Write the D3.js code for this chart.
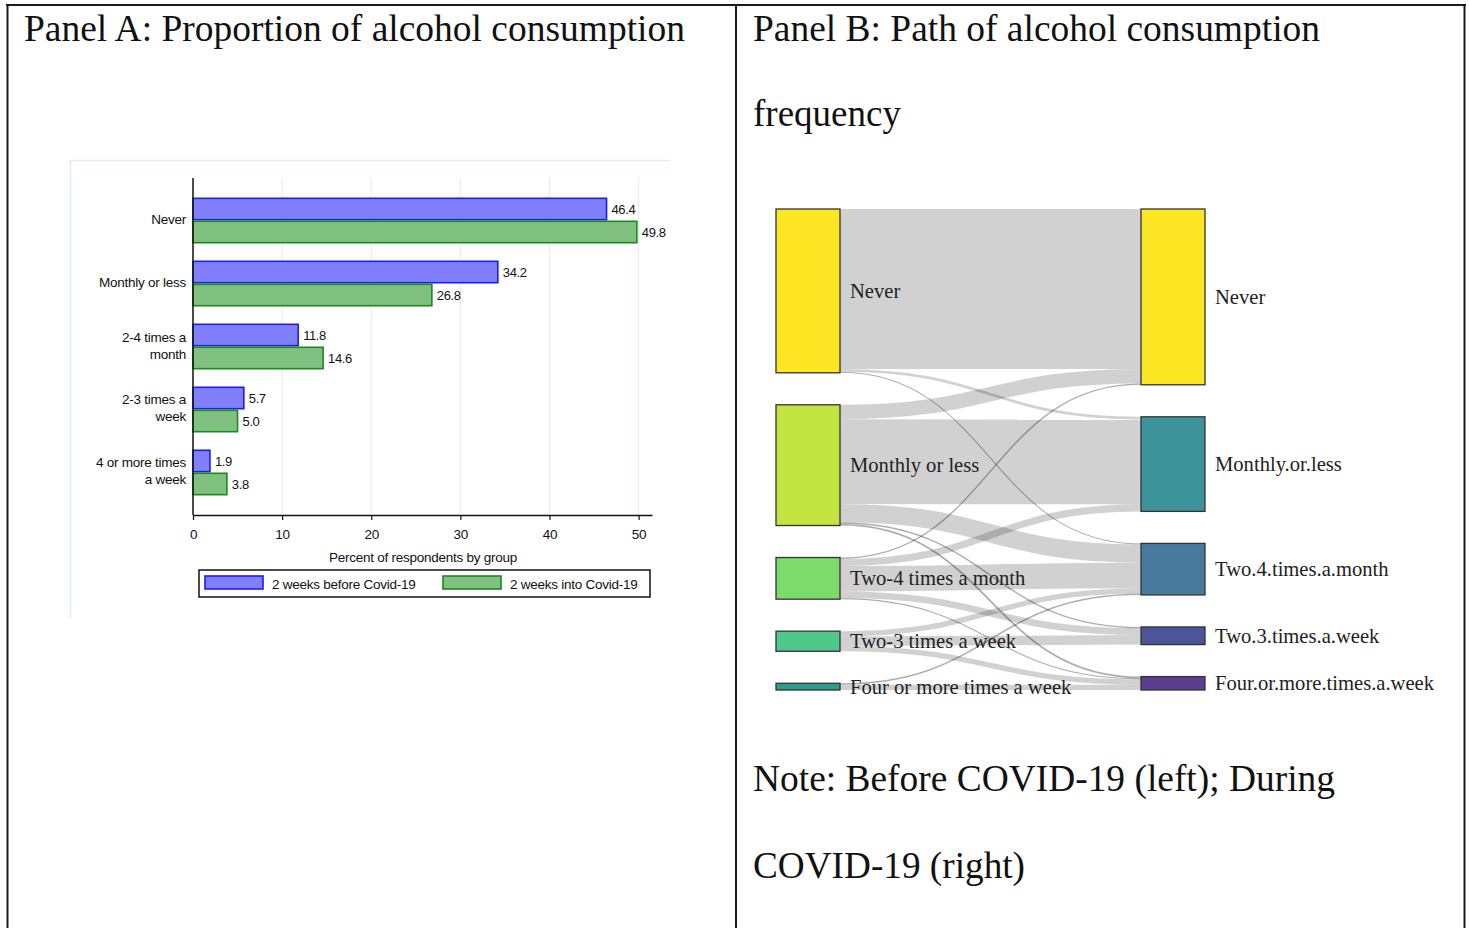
<!DOCTYPE html>
<html><head><meta charset="utf-8">
<script src="https://cdn.jsdelivr.net/npm/d3@7"></script>
<style>body{margin:0;background:#fff;overflow:hidden}</style>
</head><body>
<svg id="c" width="1469" height="928"></svg>
<script>
// ---------- Panel A data ----------
const categories = ["Never", "Monthly or less", "2-4 times a month", "2-3 times a week", "4 or more times a week"];
const categoryLines = [["Never"], ["Monthly or less"], ["2-4 times a", "month"], ["2-3 times a", "week"], ["4 or more times", "a week"]];
const seriesNames = ["2 weeks before Covid-19", "2 weeks into Covid-19"];
const beforeValues = [46.4, 34.2, 11.8, 5.7, 1.9];
const intoValues = [49.8, 26.8, 14.6, 5.0, 3.8];
const xTicks = [0, 10, 20, 30, 40, 50];
const xAxisTitle = "Percent of respondents by group";

// ---------- Panel B data ----------
const leftNodes = ["Never", "Monthly or less", "Two-4 times a month", "Two-3 times a week", "Four or more times a week"];
const rightNodes = ["Never", "Monthly.or.less", "Two.4.times.a.month", "Two.3.times.a.week", "Four.or.more.times.a.week"];
const leftColors = ["#fde725", "#c2e541", "#7ddb6c", "#4fc88b", "#2a9d8f"];
const rightColors = ["#fde725", "#3c939a", "#477a9c", "#4b5597", "#5c3d8f"];
const flowFrom  = [0, 0, 0,   1, 1, 1, 1, 1,   2, 2, 2, 2, 2,   3, 3, 3,   4, 4];
const flowTo    = [0, 1, 2,   0, 1, 2, 3, 4,   0, 1, 2, 3, 4,   2, 3, 4,   2, 4];
const flowValue = [45.3, 0.8, 0.3,   4.1, 24.0, 5.2, 0.4, 0.5,   0.4, 2.0, 7.2, 1.9, 0.3,   1.5, 2.7, 1.5,   0.4, 1.5];

const titleA = "Panel A: Proportion of alcohol consumption";
const titleB = ["Panel B: Path of alcohol consumption", "frequency"];
const noteB = ["Note: Before COVID-19 (left); During", "COVID-19 (right)"];

const svg = d3.select("#c");
svg.append("rect").attr("width", 1469).attr("height", 928).attr("fill", "#fff");

// ---------- frame ----------
const frame = svg.append("g").attr("stroke", "#1a1a1a").attr("stroke-width", 2).attr("fill", "none");
frame.append("line").attr("x1", 6).attr("x2", 1466).attr("y1", 5).attr("y2", 5);
frame.append("line").attr("x1", 7.5).attr("x2", 7.5).attr("y1", 4).attr("y2", 928);
frame.append("line").attr("x1", 736).attr("x2", 736).attr("y1", 4).attr("y2", 928);
frame.append("line").attr("x1", 1464.5).attr("x2", 1464.5).attr("y1", 4).attr("y2", 928);

const serif = "'Liberation Serif', 'Times New Roman', serif";
const sans = "'Liberation Sans', Arial, sans-serif";
const smallSize = 13.5, smallSpacing = -0.25;

function bigText(txt, x, y, len) {
  svg.append("text").attr("x", x).attr("y", y)
    .attr("font-family", serif).attr("font-size", 38).attr("fill", "#111")
    .attr("textLength", len).attr("lengthAdjust", "spacingAndGlyphs").text(txt);
}
bigText(titleA, 24, 41, 661);
bigText(titleB[0], 753, 41, 567);
bigText(titleB[1], 753, 126, 148);
bigText(noteB[0], 753, 791, 582);
bigText(noteB[1], 753, 878, 272);

// ---------- Panel A: bar chart ----------
const gA = svg.append("g");
gA.append("line").attr("x1", 70).attr("x2", 670).attr("y1", 160.5).attr("y2", 160.5).attr("stroke", "#e4eeef").attr("stroke-width", 1.5);
gA.append("line").attr("x1", 70.5).attr("x2", 70.5).attr("y1", 160).attr("y2", 618).attr("stroke", "#e4eeef").attr("stroke-width", 1.5);

const plotTop = 178, plotBottom = 515;
const x = d3.scaleLinear().domain([0, 51.5]).range([193, 652]);
const y = d3.scaleBand().domain(categories).range([plotTop, plotBottom]).paddingInner(0.27).paddingOuter(0.31);
const ySub = d3.scaleBand().domain([0, 1]).range([0, y.bandwidth()]);

// gridlines
gA.append("g").selectAll("line").data(xTicks.filter(t => t > 0)).join("line")
  .attr("x1", d => x(d)).attr("x2", d => x(d)).attr("y1", plotTop).attr("y2", plotBottom)
  .attr("stroke", "#e2eced").attr("stroke-width", 1);

const series = [
  {name: seriesNames[0], values: beforeValues, fill: "#8080ff", stroke: "#1c1cf0"},
  {name: seriesNames[1], values: intoValues, fill: "#80c080", stroke: "#1a8a1a"}
];

series.forEach((s, si) => {
  const g = gA.append("g");
  g.selectAll("rect").data(categories).join("rect")
    .attr("x", x(0)).attr("y", (c) => y(c) + ySub(si) + 0.8)
    .attr("width", (c, i) => x(s.values[i]) - x(0))
    .attr("height", ySub.bandwidth() - 1.6)
    .attr("fill", s.fill).attr("stroke", s.stroke).attr("stroke-width", 1.6);
  g.selectAll("text").data(categories).join("text")
    .attr("x", (c, i) => x(s.values[i]) + 5)
    .attr("y", (c) => y(c) + ySub(si) + ySub.bandwidth() / 2 + 5)
    .attr("font-family", sans).attr("font-size", 13).attr("letter-spacing", -0.4).attr("fill", "#111")
    .text((c, i) => s.values[i].toFixed(1));
});

// y axis line
gA.append("line").attr("x1", x(0)).attr("x2", x(0)).attr("y1", plotTop).attr("y2", plotBottom)
  .attr("stroke", "#111").attr("stroke-width", 1.5);

// category labels
categories.forEach((c, i) => {
  const lines = categoryLines[i];
  const cy = y(c) + y.bandwidth() / 2;
  const offs = lines.length === 1 ? [-2] : [-10, 7];
  lines.forEach((ln, k) => {
    gA.append("text").attr("x", 186).attr("y", cy + offs[k] + 5)
      .attr("text-anchor", "end").attr("font-family", sans).attr("font-size", smallSize)
      .attr("letter-spacing", smallSpacing).attr("fill", "#111").text(ln);
  });
});

// x axis
const xAxis = gA.append("g").attr("transform", `translate(0,${plotBottom})`)
  .call(d3.axisBottom(x).tickValues(xTicks).tickSize(5).tickSizeOuter(0).tickPadding(9).tickFormat(d3.format("d")));
xAxis.select(".domain").attr("stroke", "#111").attr("stroke-width", 1.5);
xAxis.selectAll(".tick line").attr("stroke", "#111").attr("stroke-width", 1.2);
xAxis.selectAll(".tick text").attr("font-family", sans).attr("font-size", smallSize).attr("letter-spacing", smallSpacing).attr("fill", "#111");

gA.append("text").attr("x", 423).attr("y", 562).attr("text-anchor", "middle")
  .attr("font-family", sans).attr("font-size", smallSize).attr("letter-spacing", smallSpacing).attr("fill", "#111").text(xAxisTitle);

// legend
const leg = gA.append("g");
leg.append("rect").attr("x", 199).attr("y", 570).attr("width", 451).attr("height", 27)
  .attr("fill", "#fff").attr("stroke", "#111").attr("stroke-width", 1.5);
const legX = [205, 443];
series.forEach((s, si) => {
  leg.append("rect").attr("x", legX[si]).attr("y", 576).attr("width", 58).attr("height", 13)
    .attr("fill", s.fill).attr("stroke", s.stroke).attr("stroke-width", 1.6);
  leg.append("text").attr("x", legX[si] + 67).attr("y", 588.5)
    .attr("font-family", sans).attr("font-size", smallSize).attr("letter-spacing", smallSpacing).attr("fill", "#111").text(s.name);
});

// ---------- Panel B: sankey ----------
const gB = svg.append("g");
const colX = [[776, 840], [1141, 1205]];
const sTop = 209, sBottom = 690, nodePad = 32;
const totalFlow = d3.sum(flowValue);
const v = d3.scaleLinear().domain([0, totalFlow]).range([0, sBottom - sTop - nodePad * (leftNodes.length - 1)]);

function buildColumn(names, colors, key) {
  let yc = sTop;
  return names.map((n, i) => {
    const val = d3.sum(flowValue.filter((fv, k) => key[k] === i));
    const node = {name: n, color: colors[i], value: val, y0: yc, y1: yc + v(val)};
    yc = node.y1 + nodePad;
    return node;
  });
}
const L = buildColumn(leftNodes, leftColors, flowFrom);
const R = buildColumn(rightNodes, rightColors, flowTo);

const links = flowValue.map((val, k) => ({s: flowFrom[k], t: flowTo[k], value: val, w: v(val)}));
L.forEach((n, i) => {
  let off = n.y0;
  links.filter(l => l.s === i).sort((a, b) => a.t - b.t).forEach(l => { l.ys = off + l.w / 2; off += l.w; });
});
R.forEach((n, j) => {
  let off = n.y0;
  links.filter(l => l.t === j).sort((a, b) => a.s - b.s).forEach(l => { l.yt = off + l.w / 2; off += l.w; });
});

const linkGen = d3.linkHorizontal();
gB.append("g").attr("fill", "none").selectAll("path").data(links).join("path")
  .attr("d", l => linkGen({source: [colX[0][1], l.ys], target: [colX[1][0], l.yt]}))
  .attr("stroke", "#000")
  .attr("stroke-opacity", l => l.w < 2 ? 0.32 : 0.18)
  .attr("stroke-width", l => Math.max(1, l.w));

[[L, 0], [R, 1]].forEach(([nodes, c]) => {
  gB.append("g").selectAll("rect").data(nodes).join("rect")
    .attr("x", colX[c][0]).attr("y", d => d.y0)
    .attr("width", colX[c][1] - colX[c][0]).attr("height", d => Math.max(1, d.y1 - d.y0))
    .attr("fill", d => d.color).attr("stroke", "#333").attr("stroke-width", 1.3);
  gB.append("g").selectAll("text").data(nodes).join("text")
    .attr("x", colX[c][1] + 10).attr("y", d => (d.y0 + d.y1) / 2 + 7)
    .attr("font-family", serif).attr("font-size", 20.6).attr("fill", "#222")
    .text(d => d.name);
});
</script>
</body></html>
